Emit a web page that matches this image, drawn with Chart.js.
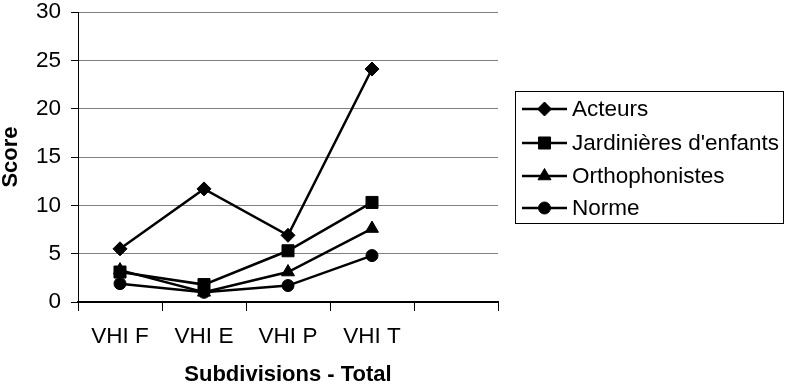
<!DOCTYPE html>
<html>
<head>
<meta charset="utf-8">
<script src="https://cdn.jsdelivr.net/npm/chart.js@4/dist/chart.umd.min.js"></script>
<style>
html,body{margin:0;padding:0;background:#fff;}
#wrap{width:788px;height:391px;position:relative;}
</style>
</head>
<body>
<div id="wrap"><canvas id="c" width="788" height="391"></canvas></div>
<script>
const categories = ['VHI F', 'VHI E', 'VHI P', 'VHI T', ''];
const seriesNames = ['Acteurs', "Jardinières d'enfants", 'Orthophonistes', 'Norme'];
const acteurs = [5.5, 11.7, 6.9, 24.1];
const jardinieres = [3.1, 1.8, 5.3, 10.3];
const orthophonistes = [3.3, 1.0, 3.1, 7.6];
const norme = [1.9, 1.0, 1.7, 4.8];
const yTicks = [0, 5, 10, 15, 20, 25, 30];
const xTitle = 'Subdivisions - Total';
const yTitle = 'Score';

const FONT = "'Liberation Sans', Arial, sans-serif";
const styles = [
  {pointStyle: 'rectRot', radius: 7},
  {pointStyle: 'rect', radius: 8.5},
  {pointStyle: 'triangle', radius: 7.5},
  {pointStyle: 'circle', radius: 6}
];
const seriesData = [acteurs, jardinieres, orthophonistes, norme];

const datasets = seriesNames.map((name, i) => ({
  label: name,
  data: seriesData[i],
  borderColor: '#000',
  backgroundColor: '#000',
  borderWidth: 2.5,
  pointStyle: styles[i].pointStyle,
  pointRadius: styles[i].radius,
  pointBorderWidth: 1,
  pointBackgroundColor: '#000',
  pointBorderColor: '#000',
  tension: 0,
  order: seriesNames.length - i
}));

const legendPlugin = {
  id: 'boxLegend',
  afterDraw(chart) {
    const ctx = chart.ctx;
    ctx.save();
    ctx.strokeStyle = '#000';
    ctx.lineWidth = 1;
    ctx.strokeRect(515.5, 91.5, 268, 132);
    const rowY = [109, 143, 176, 208];
    chart.data.datasets.forEach((ds, i) => {
      const y = rowY[i];
      ctx.strokeStyle = '#000';
      ctx.lineWidth = 2.5;
      ctx.beginPath();
      ctx.moveTo(522, y);
      ctx.lineTo(567, y);
      ctx.stroke();
      ctx.fillStyle = '#000';
      ctx.lineWidth = 1;
      Chart.helpers.drawPoint(ctx, {pointStyle: ds.pointStyle, radius: ds.pointRadius, rotation: 0, borderWidth: 1}, 544.5, y);
      ctx.fillStyle = '#000';
      ctx.font = '22.5px ' + FONT;
      ctx.textBaseline = 'middle';
      ctx.textAlign = 'left';
      ctx.fillText(ds.label, 572, y + 1);
    });
    ctx.restore();
  }
};

new Chart(document.getElementById('c'), {
  type: 'line',
  data: {labels: categories, datasets},
  plugins: [legendPlugin],
  options: {
    responsive: false,
    animation: false,
    devicePixelRatio: 1,
    layout: {padding: {top: 12, right: 290, left: 0, bottom: 0}},
    plugins: {legend: {display: false}, tooltip: {enabled: false}},
    scales: {
      x: {
        type: 'category',
        offset: true,
        grid: {display: true, offset: true, drawOnChartArea: false, tickLength: 9, color: '#000', tickColor: '#000', tickWidth: 1},
        border: {display: true, color: '#000', width: 2},
        ticks: {color: '#000', font: {family: FONT, size: 22.5}, padding: 12, maxRotation: 0, autoSkip: false},
        title: {display: true, text: xTitle, color: '#000', font: {family: FONT, size: 22, weight: 'bold'}, padding: {top: 0, bottom: 3}},
        afterFit(scale) { scale.height = 89; scale.paddingLeft = 0; scale.paddingRight = 0; }
      },
      y: {
        min: 0, max: 30,
        afterBuildTicks(scale) { scale.ticks = yTicks.map(v => ({value: v})); },
        grid: {color: '#808080', tickColor: '#000', tickLength: 7, lineWidth: 1},
        border: {display: true, color: '#000', width: 1},
        ticks: {color: '#000', font: {family: FONT, size: 22.5}, padding: 10},
        title: {display: true, text: yTitle, color: '#000', font: {family: FONT, size: 22, weight: 'bold', lineHeight: 1}, padding: {top: 0, bottom: 0}},
        afterFit(scale) { scale.width = 78; scale.paddingTop = 0; scale.paddingBottom = 0; }
      }
    }
  }
});
</script>
</body>
</html>
